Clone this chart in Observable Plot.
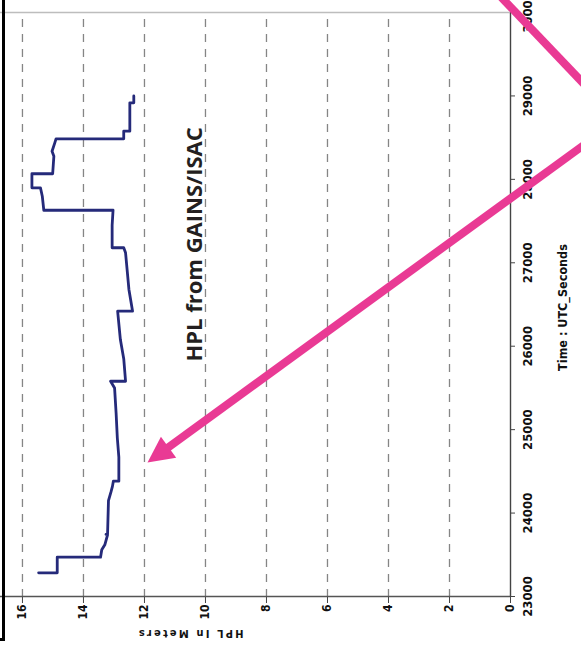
<!DOCTYPE html>
<html><head><meta charset="utf-8">
<script src="https://cdn.jsdelivr.net/npm/d3@7"></script>
<script src="https://cdn.jsdelivr.net/npm/@observablehq/plot@0.6"></script>
<style>
html,body{margin:0;padding:0;background:#fff;overflow:hidden;}
#wrap{position:relative;width:581px;height:653px;overflow:hidden;background:#fff;}
#wrap svg{position:absolute;left:0;top:0;max-width:none;transform-origin:0 0;transform:translate(0,653px) rotate(-90deg);}
#frame{position:absolute;left:0;top:0;width:2px;height:638px;border-right:3px solid #000;border-bottom:3px solid #000;z-index:2;}
text[aria-label="y-title"]{letter-spacing:2.2px;}
</style></head><body><div id="wrap"><div id="frame"></div></div>
<script>
// Time axis (UTC seconds) and HPL axis (meters)
const timeTicks = [23000, 24000, 25000, 26000, 27000, 28000, 29000, 30000];
const hplTicks = [0, 2, 4, 6, 8, 10, 12, 14, 16];
const gridValues = [2, 4, 6, 8, 10, 12, 14, 16];

// HPL series
const hplTime = [23284,23284,23471,23471,23560,23620,23740,23745,23750,24150,
  24250,24320,24382,24382,24670,24900,25200,25500,25580,25580,
  25850,26080,26420,26420,26680,26920,27120,27180,27180,27450,
  27630,27630,27798,27899,27899,28067,28067,28278,28337,28438,
  28486,28486,28577,28577,28917,28917,29000];
const hplValue = [15.47,14.86,14.86,13.44,13.40,13.30,13.21,13.26,13.21,13.18,
  13.10,13.05,13.02,12.84,12.84,12.89,12.93,12.98,13.11,12.62,
  12.68,12.79,12.88,12.39,12.51,12.57,12.62,12.68,13.06,13.06,
  13.03,15.30,15.35,15.41,15.69,15.69,15.01,14.97,15.03,14.94,
  14.90,12.68,12.68,12.48,12.48,12.35,12.35];

// Texts
const xTitle = "Time : UTC_Seconds";
const yTitle = "HPL In Meters";
const noteText = "HPL from GAINS/ISAC";
const noteTime = [27220];
const noteHpl = [10.36];

// Annotation arrows (data coordinates: time, HPL)
const arrowTail = {t: 28993, h: -4.59};
const arrowShaftEnd = {t: 24748, h: 11.37};
const arrowTip = {t: 24606, h: 11.90};
const otherArrow = {t1: 30312, h1: 0.64, t2: 28682, h2: -3.61};

const pink = "#e93a94";
const navy = "#252a7a";
const series = hplTime.map((t, i) => ({t, h: hplValue[i]}));

const headShape = {
  draw(context, l, r) {
    context.moveTo(0, 0);
    context.lineTo(-r, -l);
    context.lineTo(r, -l);
    context.closePath();
  }
};

const chart = Plot.plot({
  width: 653,
  height: 581,
  marginLeft: 56,
  marginRight: 13,
  marginTop: 0,
  marginBottom: 71,
  style: {fontFamily: "'Liberation Sans Narrow','DejaVu Sans Condensed','Liberation Sans',Arial,sans-serif", fontSize: "13px", color: "#111", background: "transparent"},
  x: {domain: [23000, 30000], label: null},
  y: {domain: [0, 16.72], label: null},
  marks: [
    Plot.ruleY(gridValues, {stroke: "#858585", strokeWidth: 1.3, strokeDasharray: "8,7"}),
    Plot.ruleX([30000], {stroke: "#bdbdbd", strokeWidth: 1.6}),
    Plot.ruleX([23000], {stroke: "#555", strokeWidth: 1.5}),
    Plot.ruleY([0], {stroke: "#444", strokeWidth: 1.4}),
    Plot.axisX(timeTicks, {tickSize: 5, tickPadding: 7, tickFormat: d => String(d), stroke: "#444", fill: "#111", fontSize: 13, fontWeight: "bold", label: null}),
    Plot.axisY(hplTicks, {tickSize: 6, tickPadding: 2, tickFormat: d => String(d), stroke: "#444", fill: "#111", fontSize: 12, fontWeight: "bold", label: null}),
    Plot.text([xTitle], {frameAnchor: "bottom", dy: 52, dx: -3, text: d => d, fontSize: 12.5, fontWeight: "bold", lineAnchor: "middle", fill: "#111"}),
    Plot.text([yTitle], {frameAnchor: "left", dx: -37, dy: -12, rotate: -90, text: d => d, fontSize: 11, fontWeight: "bold", lineAnchor: "middle", fill: "#111", ariaLabel: () => "y-title"}),
    Plot.line(series, {x: "t", y: "h", stroke: navy, strokeWidth: 2.8, strokeLinejoin: "round"}),
    Plot.text(noteTime, {x: d => d, y: (d, i) => noteHpl[i], text: () => noteText, fontFamily: "'Open Sans',sans-serif", fontWeight: "bold", fontSize: 22, fill: "#231f20", lineAnchor: "middle"}),
    Plot.link([otherArrow], {x1: "t1", y1: "h1", x2: "t2", y2: "h2", stroke: pink, strokeWidth: 8}),
    Plot.link([{t1: arrowTail.t, h1: arrowTail.h, t2: arrowShaftEnd.t, h2: arrowShaftEnd.h}], {x1: "t1", y1: "h1", x2: "t2", y2: "h2", stroke: pink, strokeWidth: 8}),
    Plot.vector([arrowTip], {x: "t", y: "h", rotate: 144, length: 26, r: 13, anchor: "start", shape: headShape, fill: pink, stroke: "none"})
  ]
});
document.getElementById("wrap").insertBefore(chart, document.getElementById("frame"));
</script>
</body></html>
